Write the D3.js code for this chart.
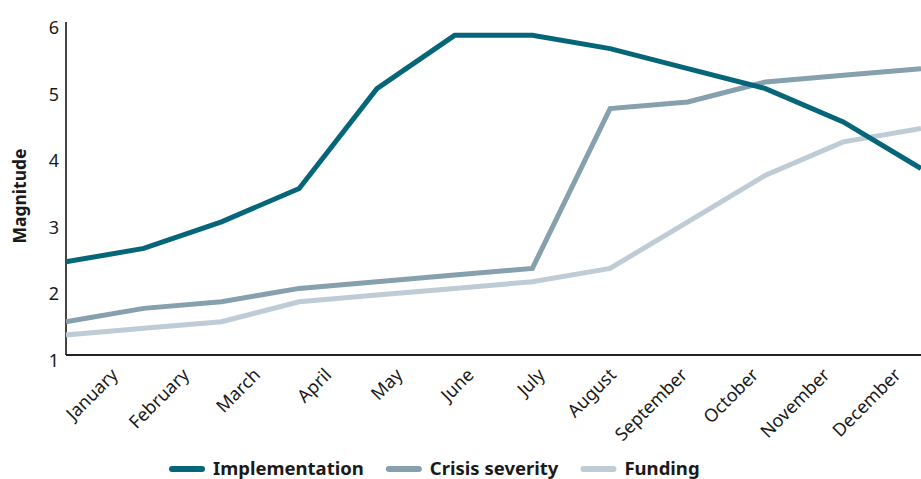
<!DOCTYPE html>
<html><head><meta charset="utf-8">
<script src="https://cdn.jsdelivr.net/npm/d3@7"></script>
<style>
body{margin:0;background:#fff;}
svg{display:block;}
text{font-family:"Noto Sans",sans-serif;fill:#1a1a1a;}
</style></head>
<body><svg id="c" width="921" height="479"></svg>
<script>
const months = ["January","February","March","April","May","June","July","August","September","October","November","December"];
const implementation = [2.4,2.6,3.0,3.5,5.0,5.8,5.8,5.6,5.3,5.0,4.5,3.8];
const crisisSeverity = [1.5,1.7,1.8,2.0,2.1,2.2,2.3,4.7,4.8,5.1,5.2,5.3];
const funding = [1.3,1.4,1.5,1.8,1.9,2.0,2.1,2.3,3.0,3.7,4.2,4.4];
const yTicks = [1,2,3,4,5,6];
const seriesNames = ["Implementation","Crisis severity","Funding"];
const seriesColors = ["#05667a","#86a0ae","#bfcbd5"];

const svg = d3.select("#c");
const x = d3.scalePoint().domain(months).range([66,921]);
const xLab = d3.scalePoint().domain(months).range([119,902]);
const y = d3.scaleLinear().domain([1,6]).range([355,22]);

// axes lines
svg.append("line").attr("x1",66).attr("x2",66).attr("y1",22).attr("y2",355).attr("stroke","#444").attr("stroke-width",2);
svg.append("line").attr("x1",66).attr("x2",921).attr("y1",355).attr("y2",355).attr("stroke","#222").attr("stroke-width",2);

// y tick labels
svg.append("g").selectAll("text").data(yTicks).join("text")
  .attr("x",59).attr("y",d=>y(d)).attr("dy",12)
  .attr("text-anchor","end").attr("font-size",18).text(d=>d);

// x labels
svg.append("g").selectAll("text").data(months).join("text")
  .attr("transform",d=>`translate(${xLab(d)},376) rotate(-45)`)
  .attr("text-anchor","end").attr("font-size",18).text(d=>d);

// y title
svg.append("text").attr("transform","translate(26,196) rotate(-90)")
  .attr("text-anchor","middle").attr("font-size",17.5).attr("font-weight","bold").text("Magnitude");

const data = [implementation, crisisSeverity, funding];
const line = d3.line().x((d,i)=>x(months[i])).y(d=>y(d));
[2,1,0].forEach(k=>{
  svg.append("path").datum(data[k]).attr("d",line).attr("fill","none")
    .attr("stroke",seriesColors[k]).attr("stroke-width",5).attr("stroke-linejoin","miter");
});

// legend
let lx = 170;
seriesNames.forEach((n,k)=>{
  svg.append("line").attr("x1",lx+2).attr("x2",lx+32).attr("y1",469).attr("y2",469)
    .attr("stroke",seriesColors[k]).attr("stroke-width",6).attr("stroke-linecap","round");
  const t = svg.append("text").attr("x",lx+43).attr("y",475).attr("font-size",18.5).attr("font-weight","bold").text(n);
  lx += 43 + t.node().getComputedTextLength() + 23;
});
</script></body></html>
